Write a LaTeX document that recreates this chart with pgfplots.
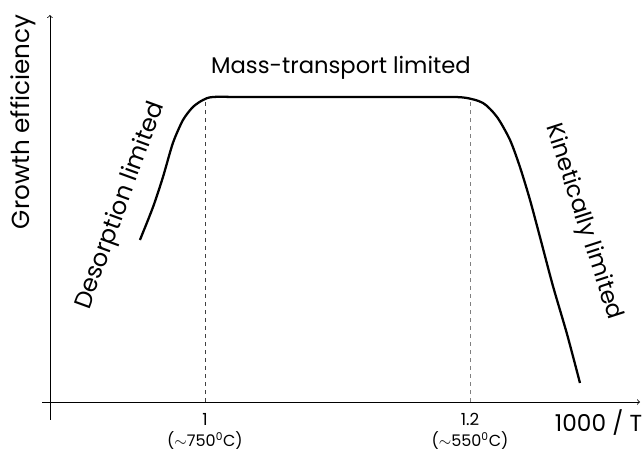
\documentclass[border=0pt]{standalone}
\usepackage{pgfplots}
\pgfplotsset{compat=1.18}
\usepackage{fontspec}
\setmainfont{Poppins}
\begin{document}
\begin{tikzpicture}
\begin{axis}[
  width=448.5pt, height=303.75pt, scale only axis,
  xmin=0.877, xmax=1.3283, ymin=-0.18, ymax=3.87,
  axis lines=none, clip=false,
]
\addplot[black, line width=1.7pt, smooth, tension=0.45] coordinates {
(0.9509,1.62) (0.9608,1.95) (0.9683,2.25) (0.9758,2.59) (0.9834,2.82)
(0.9909,2.95) (0.9985,3.02) (1.0060,3.05) (1.03,3.05) (1.1,3.05) (1.17,3.05)
(1.195,3.045) (1.2098,2.99) (1.2204,2.85) (1.2302,2.62) (1.2377,2.35)
(1.2453,2.02) (1.2528,1.65) (1.2626,1.16) (1.2732,0.68) (1.2830,0.19)
};
\addplot[black!75, dashed, line width=0.6pt] coordinates {(1,0) (1,3.03)};
\addplot[black!50, dashed, line width=0.6pt] coordinates {(1.2,0) (1.2,3.03)};
\draw[->, line width=0.6pt] (axis cs:0.877,0) -- (axis cs:1.3283,0);
\draw[->, line width=0.6pt] (axis cs:0.8830,-0.18) -- (axis cs:0.8830,3.87);
\node[font=\fontsize{17.4}{20}\selectfont] at (axis cs:1.297,-0.21) {1000 / T};
\node[font=\fontsize{18.5}{21}\selectfont, rotate=90] at (axis cs:0.8626,2.8) {Growth efficiency};
\node[font=\fontsize{17}{20}\selectfont] at (axis cs:1.1026,3.34) {Mass-transport limited};
\node[font=\fontsize{18}{21}\selectfont, rotate=70] at (axis cs:0.9365,1.96) {Desorption limited};
\node[font=\fontsize{17.5}{21}\selectfont, rotate=-72] at (axis cs:1.2855,1.80) {Kinetically limited};
\node[font=\fontsize{12.5}{15}\selectfont] at (axis cs:1,-0.175) {1};
\node[font=\fontsize{12}{15}\selectfont] at (axis cs:1,-0.385) {(${\sim}$750\textsuperscript{0}C)};
\node[font=\fontsize{12.5}{15}\selectfont] at (axis cs:1.2,-0.175) {1.2};
\node[font=\fontsize{12}{15}\selectfont] at (axis cs:1.2,-0.385) {(${\sim}$550\textsuperscript{0}C)};
\coordinate (bl) at (axis cs:0.8453,-0.50);
\coordinate (tr) at (axis cs:1.33057,4.02);
\end{axis}
\pgfresetboundingbox
\useasboundingbox (bl) rectangle (tr);
\end{tikzpicture}
\end{document}
